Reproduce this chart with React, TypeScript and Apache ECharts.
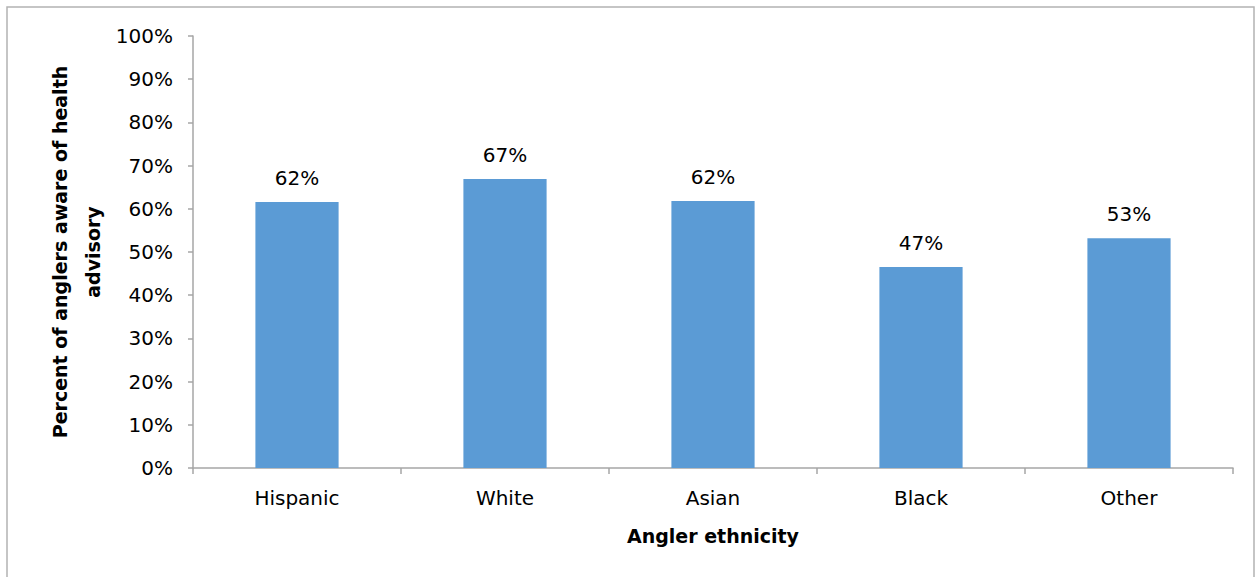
import React, { useEffect, useRef } from "react";
import * as echarts from "echarts";

const categories = ["Hispanic", "White", "Asian", "Black", "Other"];
const awareness = [61.6, 66.9, 61.8, 46.5, 53.2];
const yTicks = { min: 0, max: 100, interval: 10 };
const xTitle = "Angler ethnicity";
const yTitle = "Percent of anglers aware of health\nadvisory";

const FONT = "DejaVu Sans";

export default function App() {
  const ref = useRef<HTMLDivElement>(null);
  useEffect(() => {
    if (!ref.current) return;
    const chart = echarts.init(ref.current, undefined, { renderer: "svg" });
    chart.setOption({
      animation: false,
      backgroundColor: "#ffffff",
      textStyle: { fontFamily: FONT },
      grid: { left: 193, top: 36, right: 27, bottom: 109 },
      graphic: [
        {
          type: "rect",
          shape: { x: 7, y: 7, width: 1247, height: 580 },
          style: { fill: "none", stroke: "#b3b3b3", lineWidth: 1.5 },
          silent: true,
          z: -1,
        },
        {
          type: "text",
          x: 76,
          y: 252,
          rotation: Math.PI / 2,
          style: {
            text: yTitle,
            fontFamily: FONT,
            fontWeight: "bold",
            fontSize: 19,
            lineHeight: 33,
            fill: "#000",
            align: "center",
            verticalAlign: "middle",
          },
        },
      ],
      xAxis: {
        type: "category",
        data: categories,
        name: xTitle,
        nameLocation: "middle",
        nameGap: 58,
        nameTextStyle: { fontFamily: FONT, fontWeight: "bold", fontSize: 19, color: "#000" },
        axisLine: { lineStyle: { color: "#a6a6a6", width: 1.5 } },
        axisTick: { show: true, length: 6, alignWithLabel: false, lineStyle: { color: "#a6a6a6", width: 1.5 } },
        axisLabel: { fontFamily: FONT, fontSize: 20, color: "#000", margin: 20 },
      },
      yAxis: {
        type: "value",
        min: yTicks.min,
        max: yTicks.max,
        interval: yTicks.interval,
        axisLine: { show: true, lineStyle: { color: "#a6a6a6", width: 1.5 } },
        axisTick: { show: true, length: 5, lineStyle: { color: "#a6a6a6", width: 1.5 } },
        splitLine: { show: false },
        axisLabel: {
          fontFamily: FONT,
          fontSize: 20,
          color: "#000",
          margin: 20,
          formatter: (v: number) => `${v}%`,
        },
      },
      series: [
        {
          type: "bar",
          data: awareness,
          barWidth: "40%",
          itemStyle: { color: "#5B9BD5" },
          label: {
            show: true,
            position: "top",
            distance: 14,
            fontFamily: FONT,
            fontSize: 20,
            color: "#000",
            formatter: (p: any) => `${Math.round(p.value)}%`,
          },
        },
      ],
    });
    return () => chart.dispose();
  }, []);
  return (
    <div
      ref={ref}
      style={{ position: "fixed", left: 0, top: 0, width: 1260, height: 577 }}
    />
  );
}
